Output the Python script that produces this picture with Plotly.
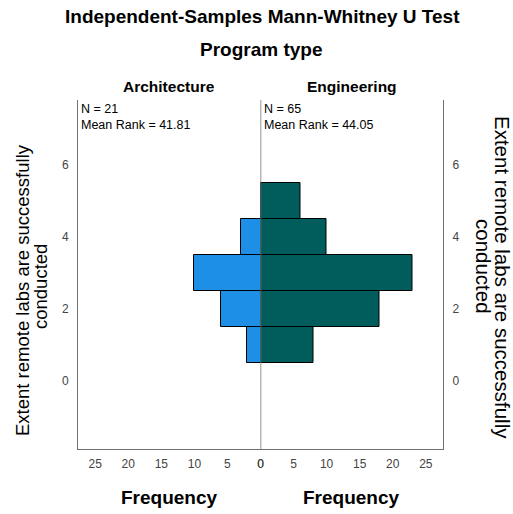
import plotly.graph_objects as go

# Data
levels = [1, 2, 3, 4, 5]
arch_freq = [2, 6, 10, 3, 0]
eng_freq = [8, 18, 23, 10, 6]
groups = ["Architecture", "Engineering"]
n_values = [21, 65]
mean_ranks = ["41.81", "44.05"]
x_ticks = [0, 5, 10, 15, 20, 25]
y_ticks = [0, 2, 4, 6]

title = "Independent-Samples Mann-Whitney U Test"
subtitle = "Program type"
y_title_lines = ["Extent remote labs are successfully", "conducted"]
x_title = "Frequency"

FONT = "Arial, Liberation Sans, sans-serif"
BLUE = "#1E8FE6"
TEAL = "#005D5B"
GRID = "#707070"

L, R, T, B = 78, 70, 100, 65
W, H = 513, 514
PW, PH = W - L - R, H - T - B


def px(x):
    return (x - L) / PW


def py(y):
    return (H - B - y) / PH


fig = go.Figure()
fig.add_trace(go.Bar(
    y=levels, x=arch_freq, orientation="h", width=1,
    marker=dict(color=BLUE, line=dict(color="black", width=1)),
    xaxis="x", yaxis="y", showlegend=False, hoverinfo="skip"))
fig.add_trace(go.Bar(
    y=levels, x=eng_freq, orientation="h", width=1,
    marker=dict(color=TEAL, line=dict(color="black", width=1)),
    xaxis="x2", yaxis="y2", showlegend=False, hoverinfo="skip"))

yrange = [-1.9, 7.8]
xmax = 27.6
tickfont = dict(family=FONT, size=12, color="#444444")

fig.update_layout(
    width=W, height=H,
    margin=dict(l=L, r=R, t=T, b=B, autoexpand=False),
    paper_bgcolor="white", plot_bgcolor="white",
    bargap=0,
    xaxis=dict(domain=[0, 0.5], range=[xmax, 0], tickvals=x_ticks,
               showgrid=False, zeroline=False, showline=True, linecolor=GRID,
               linewidth=1, ticks="", tickfont=tickfont, anchor="y",
               ticklabelstandoff=4),
    xaxis2=dict(domain=[0.5, 1], range=[0, xmax], tickvals=x_ticks,
                showgrid=False, zeroline=False, showline=True, linecolor=GRID,
                linewidth=1, ticks="", tickfont=tickfont, anchor="y2",
                ticklabelstandoff=4),
    yaxis=dict(range=yrange, tickvals=y_ticks, showgrid=False, zeroline=False,
               showline=True, linecolor=GRID, linewidth=1, ticks="",
               tickfont=tickfont, anchor="x", side="left", ticklabelstandoff=6),
    yaxis2=dict(range=yrange, tickvals=y_ticks, showgrid=False, zeroline=False,
                showline=True, linecolor=GRID, linewidth=1, ticks="",
                tickfont=tickfont, anchor="x2", side="right", ticklabelstandoff=6),
)

# centre line at frequency 0
fig.add_shape(type="line", xref="x2", yref="paper", x0=0, x1=0, y0=0, y1=1,
              line=dict(color=GRID, width=1.5))

fig.add_annotation(text="<b>" + title + "</b>", xref="paper", yref="paper",
                   x=px(262), y=py(16), showarrow=False,
                   font=dict(family=FONT, size=19, color="black"),
                   xanchor="center", yanchor="middle")
fig.add_annotation(text="<b>" + subtitle + "</b>", xref="paper", yref="paper",
                   x=px(261), y=py(49), showarrow=False,
                   font=dict(family=FONT, size=19, color="black"),
                   xanchor="center", yanchor="middle")
for i, g in enumerate(groups):
    xc = 0.25 + 0.5 * i
    fig.add_annotation(text="<b>" + g + "</b>", xref="paper", yref="paper",
                       x=xc, y=py(86), showarrow=False,
                       font=dict(family=FONT, size=15.5, color="black"),
                       xanchor="center", yanchor="middle")
    fig.add_annotation(text="<b>" + x_title + "</b>", xref="paper", yref="paper",
                       x=xc, y=py(497), showarrow=False,
                       font=dict(family=FONT, size=19, color="black"),
                       xanchor="center", yanchor="middle")
    fig.add_annotation(text=f"N = {n_values[i]}<br>Mean Rank = {mean_ranks[i]}",
                       xref="paper", yref="paper", x=0.5 * i + 0.003, y=py(100),
                       showarrow=False, align="left",
                       font=dict(family=FONT, size=12.5, color="black"),
                       xanchor="left", yanchor="top")

# left y-axis title (two lines, rotated)
for xc, yc, line in zip([22, 40], [290, 287], y_title_lines):
    fig.add_annotation(text=line, xref="paper", yref="paper",
                       x=px(xc), y=py(yc), showarrow=False, textangle=-90,
                       font=dict(family=FONT, size=18.5, color="black"),
                       xanchor="center", yanchor="middle")
# right y-axis title (two lines, rotated)
for xc, yc, line in zip([503, 484], [277, 266], y_title_lines):
    fig.add_annotation(text=line, xref="paper", yref="paper",
                       x=px(xc), y=py(yc), showarrow=False, textangle=90,
                       font=dict(family=FONT, size=20.5, color="black"),
                       xanchor="center", yanchor="middle")

fig.write_html("out.html", post_script="document.body.style.margin='0';",
               config={"displayModeBar": False})
